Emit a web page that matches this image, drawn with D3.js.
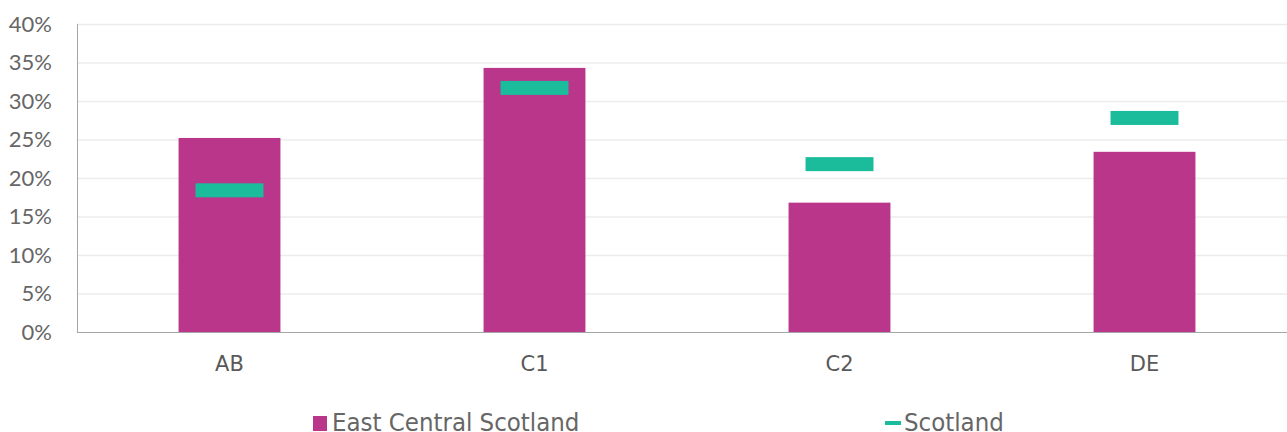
<!DOCTYPE html>
<html>
<head>
<meta charset="utf-8">
<script src="https://cdn.jsdelivr.net/npm/d3@7"></script>
<style>
  body { margin: 0; background: #fff; }
  svg { display: block; }
</style>
</head>
<body>
<div id="chart"></div>
<script>
// data
const categories = ["AB", "C1", "C2", "DE"];
const eastCentral = [25.2, 34.3, 16.8, 23.4];
const scotland = [18.4, 31.7, 21.8, 27.8];
const yTicks = [0, 5, 10, 15, 20, 25, 30, 35, 40];

const w = 1287, h = 432;
const plotLeft = 77, plotRight = 1297, plotTop = 24, plotBottom = 332;

const svg = d3.select("#chart").append("svg")
    .attr("width", w)
    .attr("height", h);

// title, mostly cut off above the frame in the original
svg.append("text")
    .attr("x", 8)
    .attr("y", -4)
    .attr("font-family", "Lato, sans-serif")
    .attr("font-size", 24)
    .attr("font-weight", "bold")
    .attr("fill", "#595959")
    .text("Approximated social grade");

const x = d3.scaleBand()
    .domain(categories)
    .range([plotLeft, plotRight])
    .paddingInner(0.666)
    .paddingOuter(0.333);

const y = d3.scaleLinear()
    .domain([0, 40])
    .range([plotBottom, plotTop]);

// gridlines
svg.append("g")
    .selectAll("line")
    .data(yTicks.filter(d => d > 0))
    .join("line")
    .attr("x1", plotLeft)
    .attr("x2", w)
    .attr("y1", d => y(d) + 0.5)
    .attr("y2", d => y(d) + 0.5)
    .attr("stroke", "#ececec")
    .attr("stroke-width", 1.5);

// y axis labels
const yAxis = d3.axisLeft(y).tickValues(yTicks).tickSize(0).tickPadding(25)
    .tickFormat(d => d + "%");
svg.append("g")
    .attr("transform", `translate(${plotLeft}, 0)`)
    .call(yAxis)
    .call(g => g.select(".domain").remove())
    .call(g => g.selectAll("text")
        .attr("font-family", "Lato, sans-serif")
        .attr("font-size", 22)
        .attr("fill", "#666"));

// bars
svg.append("g")
    .selectAll("rect")
    .data(categories)
    .join("rect")
    .attr("x", d => x(d))
    .attr("width", x.bandwidth())
    .attr("y", (d, i) => y(eastCentral[i]))
    .attr("height", (d, i) => y(0) - y(eastCentral[i]))
    .attr("fill", "#b9368a");

// scotland markers
const mw = x.bandwidth() * 0.667;
svg.append("g")
    .selectAll("rect")
    .data(categories)
    .join("rect")
    .attr("x", d => x(d) + (x.bandwidth() - mw) / 2)
    .attr("width", mw)
    .attr("y", (d, i) => y(scotland[i]) - 7)
    .attr("height", 14)
    .attr("fill", "#1abc9c");

// axis lines
svg.append("line")
    .attr("x1", plotLeft + 0.5).attr("x2", plotLeft + 0.5)
    .attr("y1", plotTop).attr("y2", plotBottom)
    .attr("stroke", "#a6a6a6");
svg.append("line")
    .attr("x1", plotLeft).attr("x2", w)
    .attr("y1", plotBottom + 0.5).attr("y2", plotBottom + 0.5)
    .attr("stroke", "#a6a6a6");

// x labels
const xAxis = d3.axisBottom(x).tickSize(0).tickPadding(24);
svg.append("g")
    .attr("transform", `translate(0, ${plotBottom})`)
    .call(xAxis)
    .call(g => g.select(".domain").remove())
    .call(g => g.selectAll("text")
        .attr("font-family", "'DejaVu Sans', sans-serif")
        .attr("font-size", 21)
        .attr("fill", "#595959"));

// legend
const legend = svg.append("g")
    .attr("font-family", "'DejaVu Sans Condensed', 'DejaVu Sans', sans-serif")
    .attr("font-size", 25.5)
    .attr("fill", "#666");
legend.append("rect")
    .attr("x", 313).attr("y", 416)
    .attr("width", 14).attr("height", 15)
    .attr("fill", "#b9368a");
legend.append("text")
    .attr("x", 332).attr("y", 431)
    .text("East Central Scotland");
legend.append("rect")
    .attr("x", 885).attr("y", 421)
    .attr("width", 16).attr("height", 4)
    .attr("fill", "#1abc9c");
legend.append("text")
    .attr("x", 904).attr("y", 431)
    .text("Scotland");
</script>
</body>
</html>
